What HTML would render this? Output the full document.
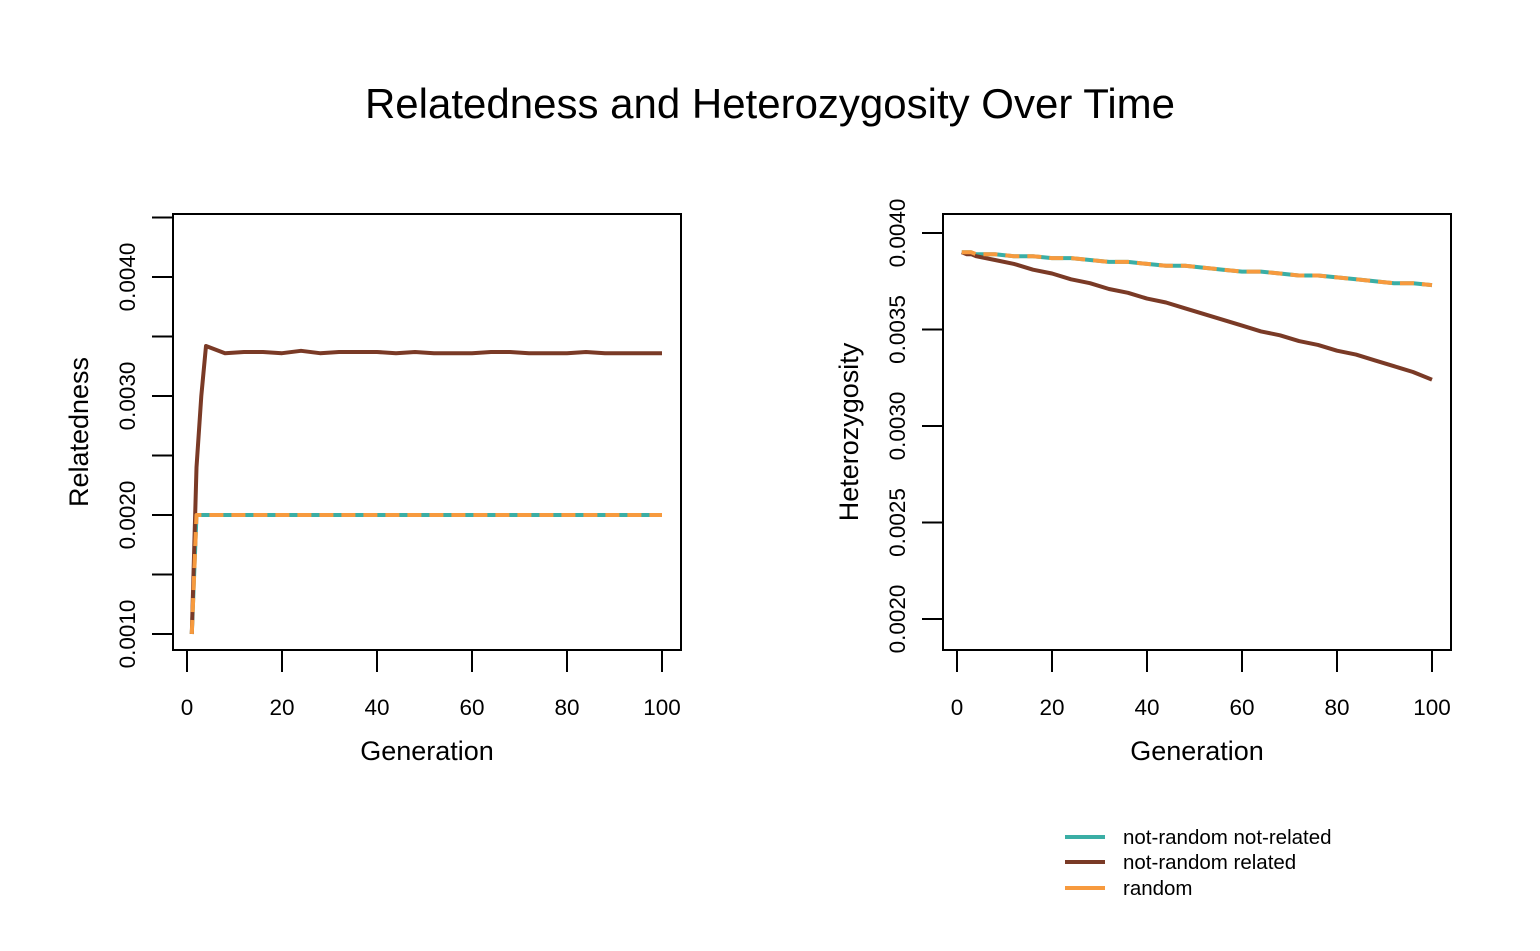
<!DOCTYPE html>
<html><head><meta charset="utf-8"><style>
body{margin:0;background:#fff;}
svg{display:block;font-family:"Liberation Sans",Arial,sans-serif;}
</style></head><body>
<svg id="fig" width="1540" height="951">
<text x="770" y="118" text-anchor="middle" font-size="42">Relatedness and Heterozygosity Over Time</text>
<g id="left"></g>
<g id="right"></g>
<g>
 <g><line x1="1065" y1="837" x2="1105" y2="837" stroke="#3aaea5" stroke-width="4"/><text x="1123" y="844" font-size="20.5">not-random not-related</text></g>
 <g><line x1="1065" y1="862" x2="1105" y2="862" stroke="#7a3a26" stroke-width="4"/><text x="1123" y="869" font-size="20.5">not-random related</text></g>
 <g><line x1="1065" y1="888" x2="1105" y2="888" stroke="#f79a3e" stroke-width="4"/><text x="1123" y="895" font-size="20.5">random</text></g>
</g>
</svg>
<script>
const gens = [1,2,3,4,8,12,16,20,24,28,32,36,40,44,48,52,56,60,64,68,72,76,80,84,88,92,96,100];
const relRelated = [0.0010,0.0024,0.0030,0.00342,0.00336,0.00337,0.00337,0.00336,0.00338,0.00336,0.00337,0.00337,0.00337,0.00336,0.00337,0.00336,0.00336,0.00336,0.00337,0.00337,0.00336,0.00336,0.00336,0.00337,0.00336,0.00336,0.00336,0.00336];
const relNotRelated = [0.0010,0.0020,0.0020,0.0020,0.0020,0.0020,0.0020,0.0020,0.0020,0.0020,0.0020,0.0020,0.0020,0.0020,0.0020,0.0020,0.0020,0.0020,0.0020,0.0020,0.0020,0.0020,0.0020,0.0020,0.0020,0.0020,0.0020,0.0020];
const relRandom = [0.0010,0.0020,0.0020,0.0020,0.0020,0.0020,0.0020,0.0020,0.0020,0.0020,0.0020,0.0020,0.0020,0.0020,0.0020,0.0020,0.0020,0.0020,0.0020,0.0020,0.0020,0.0020,0.0020,0.0020,0.0020,0.0020,0.0020,0.0020];
const hetRelated = [0.00390,0.00389,0.00389,0.00388,0.00386,0.00384,0.00381,0.00379,0.00376,0.00374,0.00371,0.00369,0.00366,0.00364,0.00361,0.00358,0.00355,0.00352,0.00349,0.00347,0.00344,0.00342,0.00339,0.00337,0.00334,0.00331,0.00328,0.00324];
const hetNotRelated = [0.00390,0.00390,0.00390,0.00389,0.00389,0.00388,0.00388,0.00387,0.00387,0.00386,0.00385,0.00385,0.00384,0.00383,0.00383,0.00382,0.00381,0.00380,0.00380,0.00379,0.00378,0.00378,0.00377,0.00376,0.00375,0.00374,0.00374,0.00373];
const hetRandom = [0.00390,0.00390,0.00390,0.00389,0.00389,0.00388,0.00388,0.00387,0.00387,0.00386,0.00385,0.00385,0.00384,0.00383,0.00383,0.00382,0.00381,0.00380,0.00380,0.00379,0.00378,0.00378,0.00377,0.00376,0.00375,0.00374,0.00374,0.00373];
const xTicks = [0,20,40,60,80,100];
const relYTicks = [0.0010,0.0015,0.0020,0.0025,0.0030,0.0035,0.0040,0.0045];
const relYLabels = ["0.0010","","0.0020","","0.0030","","0.0040",""];
const hetYTicks = [0.0020,0.0025,0.0030,0.0035,0.0040];
const hetYLabels = ["0.0020","0.0025","0.0030","0.0035","0.0040"];

const NS="http://www.w3.org/2000/svg";
function mk(parent,tag,attrs){const e=document.createElementNS(NS,tag);for(const k in attrs)e.setAttribute(k,attrs[k]);parent.appendChild(e);return e;}

function panel(g,box,x0px,x100px,yA,yApx,yB,yBpx,yTicks,yLabels,ylab,series,prefix){
  const X=v=>x0px+(x100px-x0px)*v/100;
  const Y=v=>yApx+(yBpx-yApx)*(v-yA)/(yB-yA);
  const r=mk(g,'rect',{x:box[0],y:box[1],width:box[2]-box[0],height:box[3]-box[1],fill:'none',stroke:'#000','stroke-width':2});
  
  
  xTicks.forEach(t=>{
    const l=mk(g,'line',{x1:X(t),x2:X(t),y1:box[3],y2:box[3]+22,stroke:'#000','stroke-width':2});
    
    
    const tx=mk(g,'text',{x:X(t),y:box[3]+65,'text-anchor':'middle','font-size':22.5});
    tx.textContent=t;
    
    
  });
  yTicks.forEach((t,i)=>{
    const y=Y(t);
    const l=mk(g,'line',{x1:box[0]-21,x2:box[0],y1:y,y2:y,stroke:'#000','stroke-width':2});
    
    
    if(yLabels[i]){
      const tx=mk(g,'text',{x:0,y:0,'text-anchor':'middle','font-size':22.5,transform:`translate(${box[0]-38},${y}) rotate(-90)`});
      tx.textContent=yLabels[i];
      
      
    }
  });
  const xl=mk(g,'text',{x:(box[0]+box[2])/2,y:760,'text-anchor':'middle','font-size':27});
  xl.textContent='Generation';
  
  
  const yl=mk(g,'text',{x:0,y:0,'text-anchor':'middle','font-size':27,transform:`translate(${box[0]-85},${(box[1]+box[3])/2}) rotate(-90)`});
  yl.textContent=ylab;
  
  
  series.forEach(s=>{
    const pts=gens.map((gv,i)=>X(gv).toFixed(1)+','+Y(s.vals[i]).toFixed(1)).join(' ');
    const p=mk(g,'polyline',{points:pts,fill:'none',stroke:s.color,'stroke-width':4,'stroke-linejoin':'round','stroke-dasharray':s.dash||'none'});
    
    
  });
}
panel(document.getElementById('left'),[173,214,681,650],187,662,0.0010,634,0.0040,277,relYTicks,relYLabels,'Relatedness',
 [{vals:relNotRelated,color:'#3aaea5',name:'not-random-not-related'},{vals:relRelated,color:'#7a3a26',name:'not-random-related'},{vals:relRandom,color:'#f79a3e',dash:'14 8',name:'random'}],'relatedness');
panel(document.getElementById('right'),[943,214,1451,650],957,1432,0.0020,619,0.0040,233,hetYTicks,hetYLabels,'Heterozygosity',
 [{vals:hetNotRelated,color:'#3aaea5',name:'not-random-not-related'},{vals:hetRelated,color:'#7a3a26',name:'not-random-related'},{vals:hetRandom,color:'#f79a3e',dash:'14 8',name:'random'}],'heterozygosity');
</script>
</body></html>
